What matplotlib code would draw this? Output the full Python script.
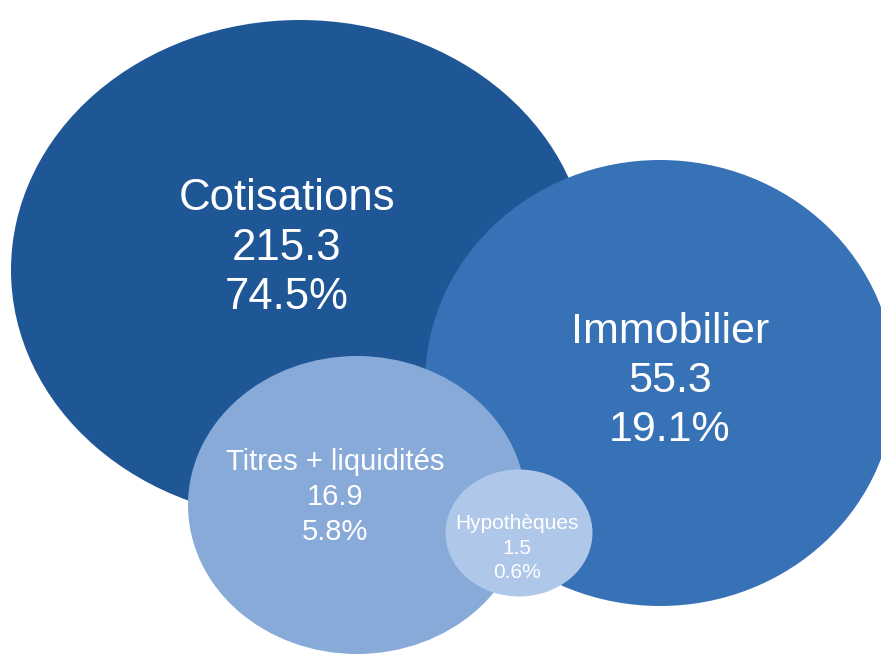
import matplotlib

matplotlib.use('Agg')
import matplotlib.pyplot as plt
from matplotlib.patches import Ellipse

plt.rcParams['font.family'] = ['Liberation Sans', 'DejaVu Sans']

# Data
labels = ['Cotisations', 'Immobilier', 'Titres + liquidités', 'Hypothèques']
amounts = ['215.3', '55.3', '16.9', '1.5']
shares = ['74.5%', '19.1%', '5.8%', '0.6%']

# Bubble layout (pixel space, y downwards)
centers = [(300, 270), (660, 383), (357, 505), (519, 533)]
widths = [578, 470, 338, 147]
heights = [500, 446, 298, 127]
colors = ['#1f5796', '#3771b6', '#88aad9', '#afc8e9']
text_pos = [(287, 248), (670, 381), (335, 497), (517, 548)]
text_sizes = [31.5, 31, 21, 15]
line_spacing = [1.28, 1.3, 1.3, 1.35]

fig = plt.figure(figsize=(8.81, 6.54), dpi=100)
ax = fig.add_axes([0, 0, 1, 1])
ax.set_xlim(0, 881)
ax.set_ylim(654, 0)
ax.axis('off')

for i in range(len(labels)):
    ax.add_patch(Ellipse(centers[i], widths[i], heights[i],
                         facecolor=colors[i], edgecolor='none', zorder=i + 1))
    ax.text(text_pos[i][0], text_pos[i][1],
            f'{labels[i]}\n{amounts[i]}\n{shares[i]}',
            ha='center', va='center', color='white',
            fontsize=text_sizes[i], linespacing=line_spacing[i], zorder=10 + i)

plt.savefig('out.png', dpi=100, facecolor='white')
